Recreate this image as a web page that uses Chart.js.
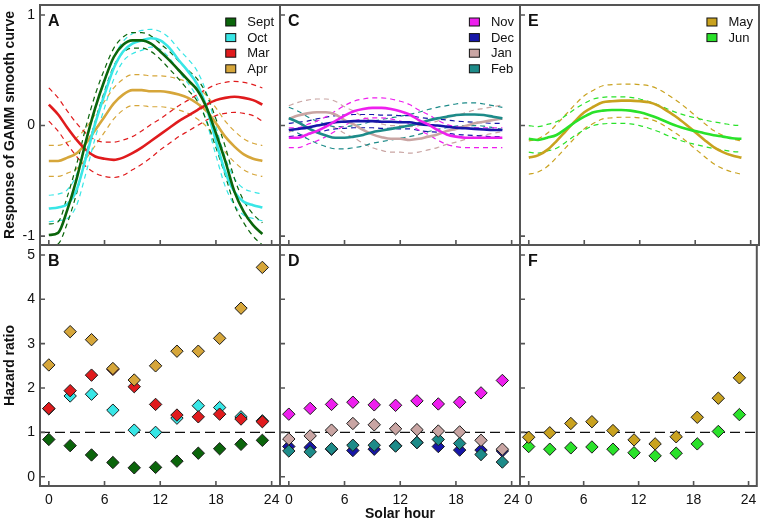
<!DOCTYPE html>
<html><head><meta charset="utf-8">
<script src="https://cdn.jsdelivr.net/npm/chart.js@4"></script>
<style>
html,body{margin:0;padding:0;background:#fff;}
#wrap{position:relative;width:764px;height:527px;overflow:hidden;}
#wrap canvas{position:absolute;left:0;top:0;}
</style></head><body>
<div id="wrap">
<canvas id="cA" width="764" height="527"></canvas>
<canvas id="cC" width="764" height="527"></canvas>
<canvas id="cE" width="764" height="527"></canvas>
<canvas id="cB" width="764" height="527"></canvas>
<canvas id="cD" width="764" height="527"></canvas>
<canvas id="cF" width="764" height="527"></canvas>
</div>
<script>
// ---------- data ----------
const hours = [0,1,2,3,4,5,6,7,8,9,10,11,12,13,14,15,16,17,18,19,20,21,22,23];
const hrHours = [0,2.3,4.6,6.9,9.2,11.5,13.8,16.1,18.4,20.7,23];
const xTickValues = [0,6,12,18,24];
const gammTickValues = [-1,0,1];
const hrTickValues = [0,1,2,3,4,5];
const refLineX = [-0.95,24.9];
const refLineY = [1,1];

// Panel A
const septFit = [-0.99,-0.97,-0.76,-0.48,-0.14,0.16,0.41,0.62,0.73,0.77,0.77,0.74,0.67,0.59,0.50,0.41,0.32,0.16,-0.07,-0.32,-0.60,-0.78,-0.90,-0.98];
const septHi  = [-0.89,-0.87,-0.64,-0.35,-0.01,0.28,0.51,0.70,0.80,0.84,0.84,0.81,0.74,0.67,0.58,0.50,0.42,0.28,0.06,-0.19,-0.48,-0.68,-0.80,-0.88];
const septLo  = [-1.09,-1.07,-0.88,-0.61,-0.27,0.04,0.31,0.54,0.66,0.70,0.70,0.67,0.60,0.51,0.42,0.32,0.22,0.04,-0.20,-0.45,-0.72,-0.88,-1.00,-1.08];
const octFit  = [-0.75,-0.74,-0.71,-0.58,-0.29,0.02,0.28,0.52,0.67,0.74,0.77,0.79,0.77,0.70,0.59,0.49,0.37,0.16,-0.14,-0.42,-0.60,-0.69,-0.72,-0.74];
const octHi   = [-0.63,-0.62,-0.58,-0.44,-0.15,0.15,0.40,0.62,0.76,0.83,0.86,0.87,0.85,0.79,0.69,0.60,0.49,0.29,-0.01,-0.29,-0.48,-0.57,-0.60,-0.62];
const octLo   = [-0.87,-0.86,-0.84,-0.72,-0.43,-0.11,0.16,0.42,0.58,0.65,0.68,0.71,0.69,0.61,0.49,0.38,0.25,0.03,-0.27,-0.55,-0.72,-0.81,-0.84,-0.86];
const marFit  = [0.19,0.10,-0.02,-0.13,-0.22,-0.28,-0.30,-0.31,-0.29,-0.25,-0.20,-0.14,-0.08,-0.02,0.04,0.09,0.14,0.19,0.23,0.25,0.26,0.25,0.23,0.19];
const marHi   = [0.34,0.25,0.13,0.02,-0.07,-0.13,-0.15,-0.15,-0.13,-0.10,-0.05,0.01,0.06,0.12,0.18,0.23,0.28,0.33,0.37,0.39,0.40,0.39,0.37,0.34];
const marLo   = [0.04,-0.05,-0.17,-0.28,-0.37,-0.43,-0.46,-0.47,-0.45,-0.40,-0.35,-0.29,-0.22,-0.16,-0.10,-0.05,0.00,0.05,0.09,0.11,0.12,0.11,0.09,0.04];
const aprFit  = [-0.32,-0.32,-0.29,-0.25,-0.16,-0.04,0.08,0.20,0.28,0.32,0.32,0.31,0.31,0.30,0.28,0.25,0.20,0.13,0.02,-0.10,-0.19,-0.26,-0.30,-0.32];
const aprHi   = [-0.18,-0.18,-0.15,-0.11,-0.02,0.10,0.22,0.34,0.42,0.46,0.46,0.45,0.45,0.44,0.42,0.39,0.34,0.27,0.16,0.04,-0.05,-0.12,-0.16,-0.18];
const aprLo   = [-0.46,-0.46,-0.43,-0.39,-0.30,-0.18,-0.06,0.06,0.14,0.18,0.18,0.17,0.17,0.16,0.14,0.11,0.06,-0.01,-0.12,-0.24,-0.33,-0.40,-0.44,-0.46];

// Panel C
const novFit = [-0.11,-0.11,-0.08,-0.05,-0.01,0.04,0.09,0.13,0.15,0.16,0.16,0.15,0.13,0.10,0.05,0.01,-0.04,-0.08,-0.10,-0.11,-0.11,-0.11,-0.11,-0.11];
const novHi  = [-0.02,-0.02,0.01,0.04,0.08,0.13,0.18,0.22,0.24,0.25,0.25,0.24,0.22,0.19,0.14,0.10,0.05,0.01,-0.01,-0.02,-0.02,-0.02,-0.02,-0.02];
const novLo  = [-0.20,-0.20,-0.17,-0.14,-0.10,-0.05,0.00,0.04,0.06,0.07,0.07,0.06,0.04,0.01,-0.04,-0.08,-0.13,-0.17,-0.19,-0.20,-0.20,-0.20,-0.20,-0.20];
const decFit = [-0.04,-0.03,-0.02,0.00,0.015,0.03,0.035,0.04,0.04,0.04,0.035,0.035,0.03,0.03,0.015,0.005,0.00,-0.01,-0.02,-0.025,-0.03,-0.035,-0.04,-0.04];
const decHi  = [0.02,0.03,0.04,0.06,0.075,0.09,0.095,0.10,0.10,0.10,0.095,0.095,0.09,0.09,0.075,0.065,0.06,0.05,0.04,0.035,0.03,0.025,0.02,0.02];
const decLo  = [-0.10,-0.09,-0.08,-0.06,-0.045,-0.03,-0.025,-0.02,-0.02,-0.02,-0.025,-0.025,-0.03,-0.03,-0.045,-0.055,-0.06,-0.07,-0.08,-0.085,-0.09,-0.095,-0.10,-0.10];
const janFit = [0.06,0.09,0.11,0.12,0.12,0.10,0.05,0.01,-0.04,-0.08,-0.105,-0.12,-0.12,-0.13,-0.12,-0.10,-0.08,-0.05,-0.03,-0.005,0.02,0.035,0.05,0.065];
const janHi  = [0.18,0.21,0.23,0.24,0.24,0.22,0.17,0.13,0.08,0.04,0.015,0.00,0.00,-0.01,0.00,0.02,0.04,0.07,0.09,0.115,0.14,0.155,0.17,0.185];
const janLo  = [-0.06,-0.03,-0.01,0.00,0.00,-0.02,-0.07,-0.11,-0.16,-0.20,-0.225,-0.24,-0.24,-0.25,-0.24,-0.22,-0.20,-0.17,-0.15,-0.125,-0.10,-0.085,-0.07,-0.055];
const febFit = [0.066,0.03,-0.02,-0.06,-0.09,-0.11,-0.11,-0.10,-0.085,-0.06,-0.045,-0.03,-0.015,0.00,0.02,0.045,0.065,0.08,0.095,0.10,0.10,0.095,0.08,0.065];
const febHi  = [0.166,0.13,0.08,0.04,0.01,-0.01,-0.01,0.00,0.015,0.04,0.055,0.07,0.085,0.10,0.12,0.145,0.165,0.18,0.195,0.205,0.205,0.195,0.18,0.165];
const febLo  = [-0.034,-0.07,-0.12,-0.16,-0.19,-0.21,-0.21,-0.20,-0.185,-0.16,-0.145,-0.13,-0.115,-0.10,-0.08,-0.055,-0.035,-0.02,-0.005,0.00,0.00,-0.005,-0.02,-0.035];

// Panel E
const mayFit = [-0.29,-0.27,-0.22,-0.14,-0.05,0.04,0.12,0.17,0.21,0.22,0.225,0.225,0.22,0.21,0.18,0.13,0.075,0.01,-0.06,-0.13,-0.195,-0.24,-0.27,-0.29];
const mayHi  = [-0.14,-0.12,-0.07,0.01,0.10,0.19,0.27,0.32,0.36,0.37,0.375,0.375,0.37,0.36,0.33,0.28,0.225,0.16,0.09,0.02,-0.045,-0.09,-0.12,-0.14];
const mayLo  = [-0.44,-0.42,-0.37,-0.29,-0.20,-0.11,-0.03,0.02,0.06,0.07,0.075,0.075,0.07,0.06,0.03,-0.02,-0.075,-0.14,-0.21,-0.28,-0.345,-0.39,-0.42,-0.44];
const junFit = [-0.12,-0.13,-0.11,-0.085,-0.03,0.03,0.08,0.12,0.135,0.14,0.14,0.135,0.12,0.096,0.066,0.03,-0.003,-0.03,-0.05,-0.07,-0.087,-0.10,-0.115,-0.12];
const junHi  = [0.00,-0.01,0.01,0.035,0.09,0.15,0.20,0.24,0.255,0.26,0.26,0.255,0.24,0.216,0.186,0.15,0.117,0.09,0.07,0.05,0.033,0.02,0.005,0.00];
const junLo  = [-0.24,-0.25,-0.23,-0.205,-0.15,-0.09,-0.04,0.00,0.015,0.02,0.02,0.015,0.00,-0.024,-0.054,-0.09,-0.123,-0.15,-0.17,-0.19,-0.207,-0.22,-0.235,-0.24];

// Hazard ratios
const septHR = [0.84,0.70,0.49,0.32,0.20,0.21,0.35,0.53,0.63,0.73,0.82];
const octHR  = [1.53,1.82,1.86,1.50,1.05,1.00,1.32,1.60,1.56,1.35,1.26];
const marHR  = [1.54,1.94,2.29,2.42,2.03,1.63,1.39,1.35,1.41,1.30,1.24];
const aprHR  = [2.52,3.27,3.09,2.44,2.18,2.50,2.83,2.83,3.12,3.80,4.72];
const novHR  = [1.41,1.54,1.63,1.68,1.62,1.61,1.71,1.64,1.68,1.89,2.17];
const decHR  = [0.68,0.66,0.62,0.59,0.62,0.70,0.77,0.68,0.60,0.60,0.58];
const janHR  = [0.85,0.92,1.05,1.20,1.17,1.08,1.06,1.03,1.01,0.82,0.62];
const febHR  = [0.58,0.56,0.63,0.71,0.71,0.69,0.77,0.84,0.75,0.50,0.33];
const mayHR  = [0.89,0.99,1.20,1.24,1.04,0.83,0.74,0.90,1.34,1.77,2.23];
const junHR  = [0.68,0.62,0.65,0.67,0.62,0.54,0.47,0.53,0.74,1.02,1.40];

// ---------- styles / layout ----------
const COL = {Sept:'#0b650b', Oct:'#38e6e6', Mar:'#e01b1d', Apr:'#d6a63a', Nov:'#ee1fee', Dec:'#1616a8',
             Jan:'#c9a5a3', Feb:'#1d8b89', May:'#c9a21f', Jun:'#2ae22a'};
const W = 764, H = 527;
const FONT = "'Liberation Sans', Arial, Helvetica, sans-serif";
const X_MIN = -0.95, X_MAX = 24.9;
const BOX = {
  A:{left:40, top:5, right:280, bottom:245}, C:{left:280, top:5, right:520, bottom:245}, E:{left:520, top:5, right:759, bottom:245},
  B:{left:40, top:245, right:280, bottom:486}, D:{left:280, top:245, right:520, bottom:486}, F:{left:520, top:245, right:759, bottom:486}
};
Chart.defaults.font.family = FONT;
Chart.defaults.color = '#111';

function pts(xs, ys){ return xs.map((x,i)=>({x:x, y:ys[i]})); }
function fitSets(list){
  const out = [];
  list.forEach(m => out.push({data: pts(hours, m.fit), borderColor: COL[m.name], borderWidth: 2.6,
     pointRadius: 0, cubicInterpolationMode: 'monotone', fill: false}));
  list.forEach(m => {
    [m.hi, m.lo].forEach(arr => out.push({data: pts(hours, arr), borderColor: COL[m.name], borderWidth: 1.2,
      borderDash: [5,4], pointRadius: 0, cubicInterpolationMode: 'monotone', fill: false}));
  });
  return out;
}
function hrSets(list){
  const out = list.map(m => ({data: pts(hrHours, m.hr), showLine: false, pointStyle: 'rectRot', pointRadius: 6.2,
     pointBackgroundColor: COL[m.name], pointBorderColor: '#1a1a1a', pointBorderWidth: 1}));
  out.push({data: pts(refLineX, refLineY), borderColor: '#111', borderWidth: 1.4, borderDash: [10,5], pointRadius: 0});
  return out;
}

function decor(cfg){
  return {
    id: 'decor' + cfg.letter,
    afterDraw(chart){
      const ctx = chart.ctx, a = chart.chartArea, sx = chart.scales.x, sy = chart.scales.y;
      ctx.save();
      ctx.strokeStyle = '#555'; ctx.lineWidth = 1.6;
      ctx.beginPath();
      sx.ticks.forEach(t => { const p = sx.getPixelForValue(t.value); ctx.moveTo(p, a.bottom); ctx.lineTo(p, a.bottom - 5); });
      sy.ticks.forEach(t => { const p = sy.getPixelForValue(t.value); ctx.moveTo(a.left, p); ctx.lineTo(a.left + 5, p); });
      ctx.stroke();
      ctx.lineWidth = 2;
      ctx.strokeRect(a.left, a.top, a.right - a.left, a.bottom - a.top);
      // panel letter
      ctx.fillStyle = '#111'; ctx.textBaseline = 'top'; ctx.textAlign = 'left';
      ctx.font = 'bold 16px ' + FONT;
      ctx.fillText(cfg.letter, a.left + 8, a.top + 9);
      // legend
      if (cfg.legend) {
        ctx.font = '13px ' + FONT;
        const maxW = Math.max.apply(null, cfg.legend.map(n => ctx.measureText(n).width));
        const tx = a.right - 6 - maxW;
        cfg.legend.forEach((n, i) => {
          const cy = a.top + 17 + i * 15.6;
          ctx.fillStyle = COL[n]; ctx.fillRect(tx - 21.5, cy - 4, 10, 8);
          ctx.strokeStyle = '#111'; ctx.lineWidth = 1; ctx.strokeRect(tx - 21.5, cy - 4, 10, 8);
          ctx.fillStyle = '#111'; ctx.textBaseline = 'middle'; ctx.fillText(n, tx, cy + 0.5);
        });
      }
      ctx.restore();
    }
  };
}

function makeChart(id, cfg){
  const box = cfg.box;
  const yW = cfg.yLabels ? box.left : 0;
  const xH = cfg.xLabels ? H - box.bottom : 0;
  return new Chart(document.getElementById(id), {
    type: 'line',
    data: {datasets: cfg.datasets},
    options: {
      responsive: false, animation: false, devicePixelRatio: 1, events: [],
      layout: {padding: {left: box.left - yW, top: box.top, right: W - box.right, bottom: H - box.bottom - xH}},
      plugins: {legend: {display: false}, tooltip: {enabled: false}},
      scales: {
        x: {type: 'linear', min: X_MIN, max: X_MAX,
            afterBuildTicks: s => { s.ticks = xTickValues.map(v => ({value: v})); },
            afterFit: s => { s.height = xH; s.paddingLeft = 0; s.paddingRight = 0; },
            grid: {display: false, drawTicks: false}, border: {display: false},
            ticks: {display: !!cfg.xLabels, padding: 6, color: '#111', font: {size: 14}, maxRotation: 0, autoSkip: false},
            title: {display: !!cfg.xTitle, text: cfg.xTitle || '', color: '#111', font: {size: 14, weight: 'bold'}, padding: {top: 0, bottom: 4}}},
        y: {type: 'linear', min: cfg.yMin, max: cfg.yMax,
            afterBuildTicks: s => { s.ticks = cfg.yTicks.map(v => ({value: v})); },
            afterFit: s => { s.width = yW; s.paddingTop = 0; s.paddingBottom = 0; },
            grid: {display: false, drawTicks: false}, border: {display: false},
            ticks: {display: !!cfg.yLabels, padding: 5, color: '#111', font: {size: 14}, autoSkip: false},
            title: {display: !!cfg.yTitle, text: cfg.yTitle || '', color: '#111', font: {size: 14, weight: 'bold'}, padding: {top: 2, bottom: 0}}}
      }
    },
    plugins: [decor(cfg)]
  });
}

const topY = {yMin: -1.08, yMax: 1.09, yTicks: gammTickValues};
const botY = {yMin: -0.21, yMax: 5.225, yTicks: hrTickValues};

makeChart('cA', Object.assign({box: BOX.A, letter: 'A', yLabels: true, yTitle: 'Response of GAMM smooth curve',
  legend: ['Sept','Oct','Mar','Apr'],
  datasets: fitSets([{name:'Sept', fit:septFit, hi:septHi, lo:septLo},{name:'Oct', fit:octFit, hi:octHi, lo:octLo},
                     {name:'Mar', fit:marFit, hi:marHi, lo:marLo},{name:'Apr', fit:aprFit, hi:aprHi, lo:aprLo}])}, topY));
makeChart('cC', Object.assign({box: BOX.C, letter: 'C',
  legend: ['Nov','Dec','Jan','Feb'],
  datasets: fitSets([{name:'Nov', fit:novFit, hi:novHi, lo:novLo},{name:'Dec', fit:decFit, hi:decHi, lo:decLo},
                     {name:'Feb', fit:febFit, hi:febHi, lo:febLo},{name:'Jan', fit:janFit, hi:janHi, lo:janLo}])}, topY));
makeChart('cE', Object.assign({box: BOX.E, letter: 'E',
  legend: ['May','Jun'],
  datasets: fitSets([{name:'Jun', fit:junFit, hi:junHi, lo:junLo},{name:'May', fit:mayFit, hi:mayHi, lo:mayLo}])}, topY));
makeChart('cB', Object.assign({box: BOX.B, letter: 'B', yLabels: true, xLabels: true, yTitle: 'Hazard ratio',
  datasets: hrSets([{name:'Apr', hr:aprHR},{name:'Mar', hr:marHR},{name:'Oct', hr:octHR},{name:'Sept', hr:septHR}])}, botY));
makeChart('cD', Object.assign({box: BOX.D, letter: 'D', xLabels: true, xTitle: 'Solar hour',
  datasets: hrSets([{name:'Nov', hr:novHR},{name:'Jan', hr:janHR},{name:'Feb', hr:febHR},{name:'Dec', hr:decHR}])}, botY));
makeChart('cF', Object.assign({box: BOX.F, letter: 'F', xLabels: true,
  datasets: hrSets([{name:'May', hr:mayHR},{name:'Jun', hr:junHR}])}, botY));
</script>
</body></html>
